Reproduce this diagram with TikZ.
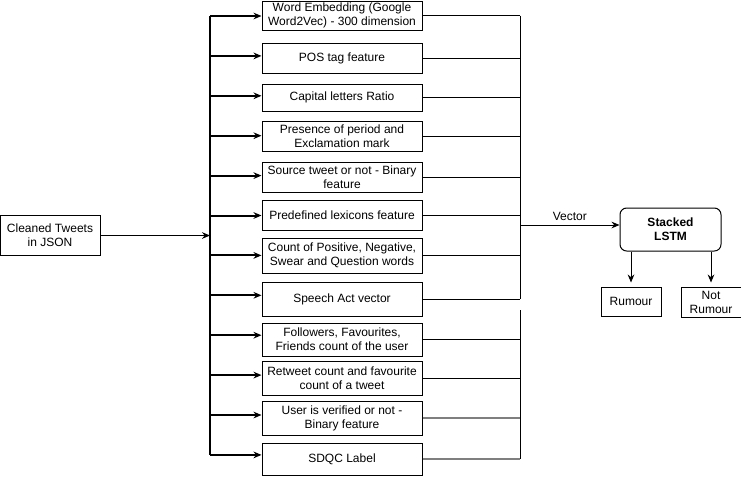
\documentclass[tikz,border=0pt]{standalone}
\usepackage{fontspec}
\setmainfont{Liberation Sans}
\usepackage{xcolor}
\usepackage{tikz}
\usetikzlibrary{arrows.meta, positioning, calc}
\definecolor{linkgrey}{HTML}{7F7F7F}

\tikzset{
  featbox/.style={draw, line width=0.75pt, minimum width=120pt, inner sep=0pt,
    align=center, font=\fontsize{9}{10.5}\selectfont},
  lstmbox/.style={featbox, rounded corners=5pt, font=\fontsize{9}{10.5}\selectfont\bfseries},
  arr/.style={-{Stealth[length=6pt, width=5pt]}, line width=0.75pt},
  busline/.style={line width=1.5pt},
  busarr/.style={-{Stealth[length=6pt, width=5pt]}, line width=1.5pt},
  joinline/.style={line width=0.75pt}
}

\begin{document}
\begin{tikzpicture}[x=0.75pt, y=-0.75pt]
  \useasboundingbox (0,0) rectangle (741,476);

  % input
  \node[featbox, minimum width=75pt, minimum height=30pt] (tweets) at (50,235.5) {Cleaned Tweets\\in JSON};
  \coordinate (bin) at (210,235.5);

  % feature boxes, bus coordinates and join coordinates
  \foreach \n/\yc/\h/\txt in {
      1/15.5/29/{Word Embedding (Google\\Word2Vec) - 300 dimension},
      2/58/30/{POS tag feature},
      3/97.5/27/{Capital letters Ratio},
      4/136/30/{Presence of period and\\Exclamation mark},
      5/177/30/{Source tweet or not - Binary\\feature},
      6/215/30/{Predefined lexicons feature},
      7/255.5/35/{Count of Positive, Negative,\\Swear and Question words},
      8/299/34/{Speech Act vector},
      9/339.5/33/{Followers, Favourites,\\Friends count of the user},
      10/378/34/{Retweet count and favourite\\count of a tweet},
      11/418/34/{User is verified or not -\\Binary feature},
      12/459/32/{SDQC Label}}{
    \node[featbox, minimum height=\h*0.75pt] (f\n) at (342,\yc) {\txt};
    \coordinate (b\n) at (210,{16+39.9*(\n-1)});
    \coordinate (r\n) at (520,\yc);
  }

  % bus on the left
  \draw[arr] (tweets.east) -- (bin);
  \draw[busline] (b1) -- (b12);
  \foreach \n in {1,...,12}{ \draw[busarr] (b\n) -- (b\n -| f\n.west); }

  % joins on the right
  \foreach \n in {1,...,10}{ \draw[joinline] (f\n.east) -- (r\n); }
  \foreach \n in {11,12}{ \draw[joinline, linkgrey, line width=1pt] (f\n.east) -- (r\n); }
  \draw[joinline] (r1) -- (r8);
  \coordinate (lowjoin) at (520,310);
  \draw[joinline] (lowjoin) -- (r12);

  % classifier
  \node[lstmbox, minimum width=75.75pt, minimum height=32.25pt] (lstm) at (670.5,229.5) {Stacked\\LSTM};
  \coordinate (vec) at (520,225);
  \draw[arr] (vec) -- node[above, inner sep=3pt, font=\fontsize{9}{10.5}\selectfont] (veclbl) {Vector} (vec -| lstm.west);

  \node[featbox, minimum width=45pt, minimum height=21.75pt] (rum) at (631,301.5) {Rumour};
  \node[featbox, minimum width=45pt, minimum height=22.5pt] (notrum) at (711,302) {Not\\Rumour};
  \draw[arr, shorten >=3pt] (lstm.south -| rum.north) -- (rum.north);
  \draw[arr, shorten >=3pt] (lstm.south -| notrum.north) -- (notrum.north);
\end{tikzpicture}
\end{document}
